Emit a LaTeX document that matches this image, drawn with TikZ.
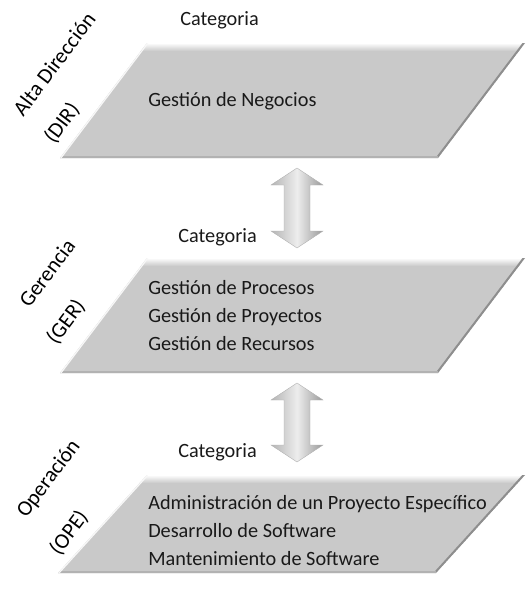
\documentclass[tikz,border=0pt]{standalone}
\usepackage{fontspec}
\setmainfont{Carlito}
\definecolor{boxfill}{HTML}{C9C9C9}
\definecolor{boxdark}{HTML}{8E8E8E}
\definecolor{arrowmid}{HTML}{EDEDED}
\definecolor{arrowside}{HTML}{B4B4B4}
\tikzset{
  txt/.style={font=\fontsize{15.2}{21}\selectfont, text=black!90, inner sep=0pt},
  boxtxt/.style={txt, anchor=west, align=left},
  lvl/.style={font=\fontsize{16.2}{20}\selectfont, text=black, inner sep=0pt, rotate=53},
  blockarrow/.style={left color=arrowside, right color=arrowside!85!black, middle color=arrowmid, draw=gray!60, line width=0.3pt},
}
\newcommand{\bevelbox}[5]{% top y, bottom y, TL x, TR x, BL x ; BR = BL + (TR-TL)
  \pgfmathsetmacro{\brx}{#5+#4-#3}
  \begin{scope}
    \clip (#3,#1) -- (#4,#1) -- (\brx,#2) -- (#5,#2) -- cycle;
    \fill[boxfill] (#3,#1) -- (#4,#1) -- (\brx,#2) -- (#5,#2) -- cycle;
    \shade[top color=white, bottom color=boxfill] (0,#1) rectangle (530,#1+8);
    \draw[boxdark, line width=3pt] (#4,#1) -- (\brx,#2);
    \draw[gray!60, line width=2.5pt] (\brx,#2) -- (#5,#2);
    \draw[white!85!boxfill, line width=2pt] (#5,#2) -- (#3,#1);
  \end{scope}
}
\begin{document}
\begin{tikzpicture}[x=0.75pt,y=-0.75pt]
\useasboundingbox (0,0) rectangle (526,589);

% boxes
\bevelbox{43}{158}{147}{525}{60}
\bevelbox{258}{373}{147}{525}{60}
\bevelbox{475}{573}{147}{525}{58}

% arrows
\path[blockarrow] (297,168) -- (323,185) -- (310,185) -- (310,231) -- (323,231) -- (297,248)
  -- (271,231) -- (284,231) -- (284,185) -- (271,185) -- cycle;
\path[blockarrow] (297,383) -- (323,400) -- (310,400) -- (310,445) -- (323,445) -- (297,462)
  -- (271,445) -- (284,445) -- (284,400) -- (271,400) -- cycle;

% category labels
\node[txt, anchor=west] (cat1) at (180,20) {Categoria};
\node[txt, anchor=west] (cat2) at (178,237) {Categoria};
\node[txt, anchor=west] (cat3) at (178,452) {Categoria};

% box texts
\node[boxtxt] (b1) at (148,101) {Gestión de Negocios};
\node[boxtxt] (b2) at (148,316) {Gestión de Procesos\\Gestión de Proyectos\\Gestión de Recursos};
\node[boxtxt] (b3) at (148,531) {Administración de un Proyecto Específico\\Desarrollo de Software\\Mantenimiento de Software};

% level labels
\node[lvl] (l1a) at (54,64) {Alta Dirección};
\node[lvl] (l1b) at (62,123) {(DIR)};
\node[lvl] (l2a) at (47,273) {Gerencia};
\node[lvl] (l2b) at (66,322) {(GER)};
\node[lvl] (l3a) at (49,479) {Operación};
\node[lvl] (l3b) at (69,533) {(OPE)};
\end{tikzpicture}
\end{document}
